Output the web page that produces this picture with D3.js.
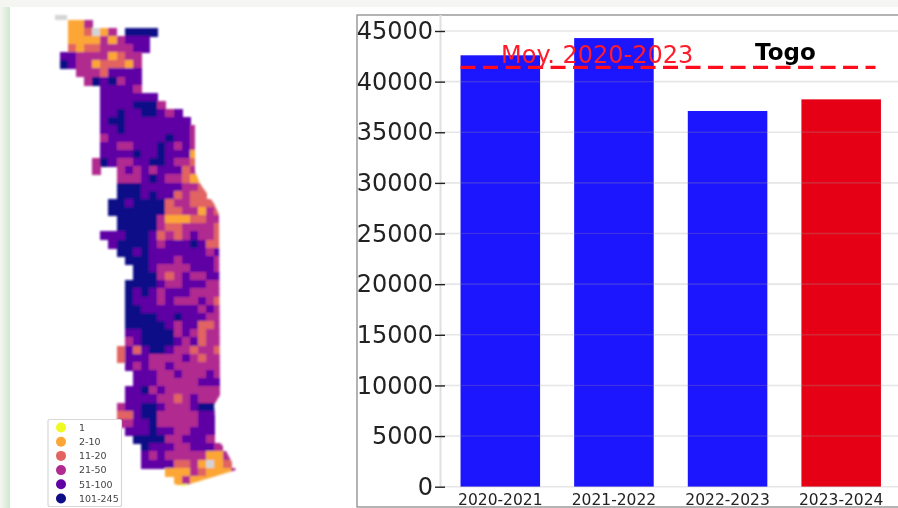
<!DOCTYPE html>
<html><head><meta charset="utf-8">
<script src="https://cdn.jsdelivr.net/npm/d3@7/dist/d3.min.js"></script>
<style>html,body{margin:0;padding:0;background:#fff;overflow:hidden}svg{display:block}</style>
</head><body><svg id="c" width="898" height="508"></svg>
<script>
const seasons=["2020-2021","2021-2022","2022-2023","2023-2024"];
const cases=[42600,44300,37100,38250];
const barColors=["#1a12ff","#1a12ff","#1a12ff","#e60017"];
const meanValue=41400;
const meanLabel="Moy. 2020-2023";
const countryLabel="Togo";
const yTicks=[0,5000,10000,15000,20000,25000,30000,35000,40000,45000];
const legendLabels=["1","2-10","11-20","21-50","51-100","101-245"];
const legendCodes=["Y","o","s","m","p","n"];
const classColors={Y:"#f0f921",o:"#fca636",s:"#e16462",m:"#b12a90",p:"#5f00a5",n:"#0d0887",g:"#d4d4d4"};
const mapRows=[
".oom",
".oosgom.nnnn",
".oooomomppp",
".sossmmmmpp",
"ppmmmmosmm",
"npmmosssom",
"..mmmspppp",
"...mnpnmpp",
".....ppppm",
".....ppppppp",
".....ppppnnnm",
".....ppnppnnpmp",
".....pnnpppppppp",
".....ppnppppppppm",
".....mpppppppnppm",
".....ppmmpppnpmpm",
".....ppppnppnpppo",
"....mnpmmppnnpmms",
"....m..mpmpmpppsm",
".......mmmpnpmmso",
".......nnnpppppmms",
".......nnnpnppsmss",
"......nnpnnnnsmmsss",
"......nnnnnnnssmmoms",
".......nnnnnmooossmm",
".......nnnnnmssmmmms",
".....pppnnnpsmsmpmms",
"......pnnnnpmpppnpss",
".......nnpnpppppppmp",
"........nnnpppmppppm",
".........nnpmmmmpppm",
".........nnnmsmpmmpp",
"........nnnnpmmpppmm",
"........npnpmpppmmmm",
"........npppmpmmmpms",
"........nnpppppppmpm",
"........nnnnppnpppmm",
"........nnnnnpmppssm",
"........ppnnnnmpmsmm",
"........mpnnnnpmpsmm",
".......spspnnpmmsmms",
".......spppmmmmpmsmm",
"........pmpmmpmmmmmm",
".........pppmmpmmmpm",
".........pppmmmmmppp",
"........ppnmpmmmmmmm",
"........ppppmmsmpmmm",
".......mppnnpmmmpnn",
".......sspnnmmmmmpp",
".......mmppnmmmmmpp",
"........pppnppmmppp",
".........nnnnmmpppm",
"..........npppmmpppm",
"..........pmpmmmmmoom",
"..........ppppssmogos",
".............ooomsooom",
"..............omooo",
"...............Y"
];

const svg=d3.select("#c");
const defs=svg.append("defs");
const addBlur=(id,s)=>defs.append("filter").attr("id",id)
  .attr("filterUnits","userSpaceOnUse").attr("x",0).attr("y",0).attr("width",898).attr("height",508)
  .append("feGaussianBlur").attr("stdDeviation",s);
addBlur("softMap",0.8);
addBlur("softChart",0.55);
const edge=defs.append("linearGradient").attr("id","edge");
edge.append("stop").attr("offset","0").attr("stop-color","#f4f7f0");
edge.append("stop").attr("offset","1").attr("stop-color","#cfe8cf");
defs.append("clipPath").attr("id","mapClip").append("polygon")
  .attr("points","40,0 195,0 195,172 201,185 215,205 219,215 220,395 214,405 217,440 224,447 236,470 180,487 165,478 40,478");

// page surround
svg.append("rect").attr("width",898).attr("height",508).attr("fill","#fff");
svg.append("rect").attr("width",898).attr("height",7).attr("fill","#f5f6f1");
svg.append("rect").attr("y",7).attr("width",10).attr("height",501).attr("fill","url(#edge)");

// map
const nCols=22;
const col=d3.scaleBand().domain(d3.range(nCols)).range([60,60+8.15*nCols]).padding(0);
const row=d3.scaleBand().domain(d3.range(mapRows.length)).range([20,20+8.15*mapRows.length]).padding(0);
const cells=mapRows.flatMap((r,j)=>Array.from(r,(c,i)=>({c,i,j}))).filter(d=>d.c!==".");
const map=svg.append("g").attr("filter","url(#softMap)").append("g").attr("clip-path","url(#mapClip)");
map.append("rect").attr("x",col(0)-5).attr("y",row(0)-5).attr("width",col.bandwidth()+4).attr("height",5)
  .attr("fill",classColors.g);
map.selectAll("rect.cell").data(cells).join("rect").attr("class","cell")
  .attr("x",d=>Math.floor(col(d.i))).attr("y",d=>Math.floor(row(d.j)))
  .attr("width",col.bandwidth()+1).attr("height",row.bandwidth()+1)
  .attr("shape-rendering","crispEdges")
  .attr("fill",d=>classColors[d.c]);

// map legend
const lg=svg.append("g").attr("filter","url(#softChart)");
lg.append("rect").attr("x",48).attr("y",419.5).attr("width",73.5).attr("height",87)
  .attr("fill","#fff").attr("stroke","#d8d8d8").attr("stroke-width",1.2).attr("rx",2);
const ly=d3.scalePoint().domain(legendLabels).range([427.5,498.5]);
lg.selectAll("circle").data(legendLabels).join("circle")
  .attr("cx",61).attr("cy",d=>ly(d)).attr("r",5)
  .attr("fill",(d,i)=>classColors[legendCodes[i]]);
lg.selectAll("text").data(legendLabels).join("text")
  .attr("x",79).attr("y",d=>ly(d)+3.3).text(d=>d)
  .attr("font-family","DejaVu Sans").attr("font-size",9.5).attr("fill","#444");

// bar chart
const x=d3.scaleBand().domain(seasons).range([443.5,898]).paddingInner(0.3).paddingOuter(0.15);
const y=d3.scaleLinear().domain([0,45000]).range([486.7,31]);
const chart=svg.append("g").attr("filter","url(#softChart)");
chart.append("rect").attr("x",357).attr("y",15).attr("width",560).attr("height",492)
  .attr("fill","#fff").attr("stroke","#8c8c8c").attr("stroke-width",1.3);
chart.append("line").attr("x1",440.5).attr("x2",440.5).attr("y1",15).attr("y2",487)
  .attr("stroke","#e0e0e0").attr("stroke-width",2);
chart.selectAll("rect.bar").data(seasons).join("rect").attr("class","bar")
  .attr("x",d=>x(d)).attr("width",x.bandwidth())
  .attr("y",(d,i)=>y(cases[i])).attr("height",(d,i)=>y(0)-y(cases[i]))
  .attr("fill",(d,i)=>barColors[i]);
chart.selectAll("line.grid").data(yTicks).join("line").attr("class","grid")
  .attr("x1",441).attr("x2",898).attr("y1",d=>y(d)).attr("y2",d=>y(d))
  .attr("stroke","#9a9a9a").attr("stroke-opacity",.25).attr("stroke-width",1.6);

const axisY=d3.axisLeft(y).tickValues(yTicks).tickFormat(d3.format("d")).tickSize(10).tickPadding(2);
const gy=chart.append("g").attr("transform","translate(445,0)").call(axisY);
gy.select(".domain").remove();
gy.selectAll("line").attr("stroke","#222").attr("stroke-width",1.4);
gy.selectAll("text").attr("font-family","DejaVu Sans").attr("font-size",24).attr("fill","#222");

const axisX=d3.axisBottom(x).tickSize(0).tickPadding(7);
const gx=chart.append("g").attr("transform","translate(0,486.7)").call(axisX);
gx.select(".domain").remove();
gx.selectAll("text").attr("font-family","DejaVu Sans").attr("font-size",15.5).attr("fill","#222");

chart.append("line").attr("x1",x(seasons[0])).attr("x2",875.5)
  .attr("y1",y(meanValue)).attr("y2",y(meanValue))
  .attr("stroke","#ff0f1f").attr("stroke-width",3.2).attr("stroke-dasharray","15 7.5");
chart.append("text").attr("x",501).attr("y",62.5).text(meanLabel)
  .attr("font-family","DejaVu Sans").attr("font-size",24).attr("fill","#ff1a2a");
chart.append("text").attr("x",755).attr("y",59.5).text(countryLabel)
  .attr("font-family","DejaVu Sans").attr("font-weight","bold").attr("font-size",23).attr("fill","#000");
</script></body></html>
